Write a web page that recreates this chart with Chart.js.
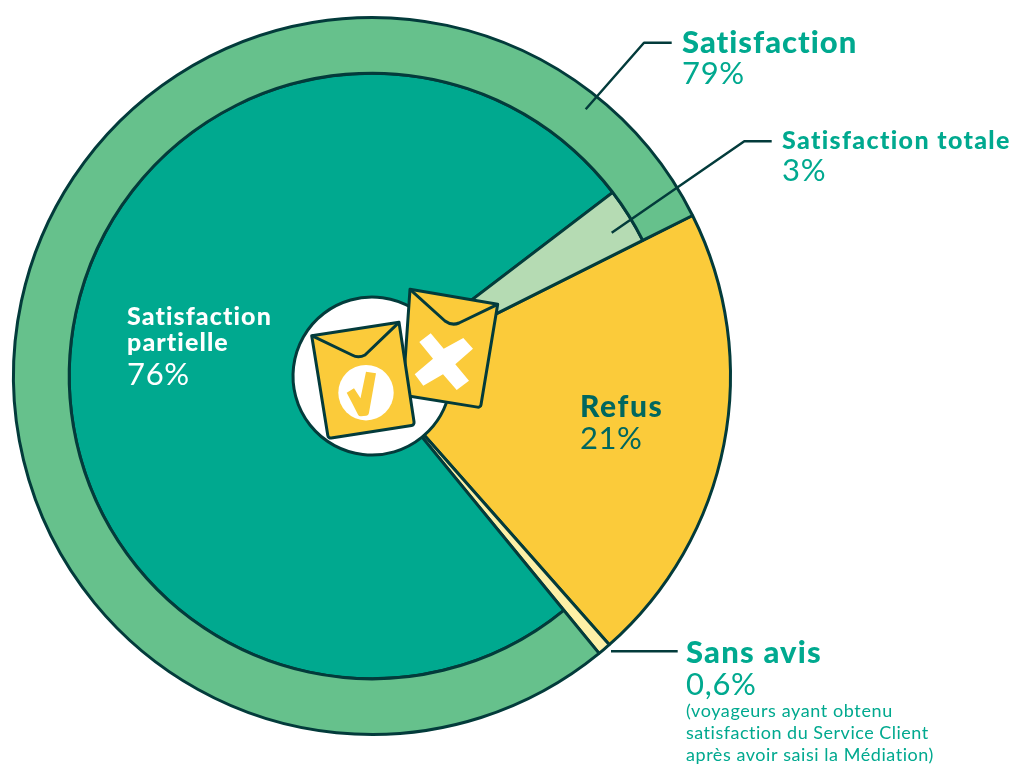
<!DOCTYPE html>
<html lang="fr">
<head>
<meta charset="utf-8">
<title>Répartition des avis</title>
<script src="https://cdn.jsdelivr.net/npm/chart.js@4"></script>
<style>
html,body{margin:0;padding:0;background:#fff}
canvas{display:block}
</style>
</head>
<body>
<canvas id="c" width="1014" height="765"></canvas>
<script>
// Shares in percent; the outer ring groups both satisfaction slices.
const outerLabels = ['Refus', 'Sans avis', 'Satisfaction'];
const outerValues = [21, 0.6, 79];
const innerLabels = ['Refus', 'Sans avis', 'Satisfaction partielle', 'Satisfaction totale'];
const innerValues = [21, 0.6, 76, 3];

const INK = '#033b3b', TEAL = '#00a98f', GREEN = '#66c18c', PALE_GREEN = '#b5dbb3';
const YELLOW = '#fbcb3a', PALE_YELLOW = '#fdf0a6', DEEP_TEAL = '#00675f';
const FACE = 'Lato, sans-serif';

// Refus and Sans avis run through both rings: stretch their inner arcs to the outer edge.
const spanRings = {
  id: 'spanRings',
  afterDatasetsUpdate(chart) {
    const outer = chart.getDatasetMeta(0).data[0].outerRadius;
    const arcs = chart.getDatasetMeta(1).data;
    arcs[0].outerRadius = outer;
    arcs[1].outerRadius = outer;
  }
};

function poly(ctx, pts, close) {
  ctx.beginPath();
  pts.forEach((p, i) => i ? ctx.lineTo(p[0], p[1]) : ctx.moveTo(p[0], p[1]));
  if (close) ctx.closePath();
}

// Closed outline whose corners are rounded by the matching radius.
function roundedPoly(ctx, pts, radii) {
  const n = pts.length;
  ctx.beginPath();
  ctx.moveTo((pts[n - 1][0] + pts[0][0]) / 2, (pts[n - 1][1] + pts[0][1]) / 2);
  pts.forEach((p, i) => {
    const q = pts[(i + 1) % n];
    ctx.arcTo(p[0], p[1], (p[0] + q[0]) / 2, (p[1] + q[1]) / 2, radii[i]);
  });
  ctx.closePath();
}

function envelope(ctx, corners, flapLeft, flapTip, flapRight) {
  ctx.save();
  ctx.lineJoin = 'round';
  ctx.lineWidth = 3;
  ctx.strokeStyle = INK;
  ctx.fillStyle = YELLOW;
  roundedPoly(ctx, corners, [0, 0, 3, 3]);
  ctx.fill();
  ctx.stroke();
  ctx.beginPath();
  ctx.moveTo(corners[0][0], corners[0][1]);
  ctx.lineTo(flapLeft[0], flapLeft[1]);
  ctx.quadraticCurveTo(flapTip[0], flapTip[1], flapRight[0], flapRight[1]);
  ctx.lineTo(corners[1][0], corners[1][1]);
  ctx.stroke();
  ctx.restore();
}

// Leader lines, envelopes and captions on top of the rings.
const annotations = {
  id: 'annotations',
  afterDraw(chart) {
    const ctx = chart.ctx;
    ctx.save();
    ctx.strokeStyle = INK;
    ctx.lineWidth = 2.5;
    ctx.lineJoin = 'round';
    [
      [[671.7, 42.7], [644, 42.7], [585.7, 109.3]],
      [[771.7, 141.3], [744.3, 141.3], [611.7, 232.7]],
      [[677.7, 651.3], [611, 651.3]]
    ].forEach(l => { poly(ctx, l, false); ctx.stroke(); });

    // Refused envelope with a white cross
    envelope(ctx, [[410, 289.3], [497.7, 304.3], [480.5, 407.6], [402.7, 395]],
      [445, 321], [451.7, 326], [459, 323]);
    ctx.fillStyle = '#fff';
    poly(ctx, [[430.7, 333.3], [443.7, 348.7], [463.3, 338], [473, 348.7], [455.3, 364.3], [469, 380.7],
      [456.7, 390], [443, 374.3], [423.3, 385.7], [414.7, 374.3], [433, 358.7], [419.3, 342]], true);
    ctx.fill();

    // Accepted envelope with a tick
    envelope(ctx, [[311.7, 335.7], [399, 322.3], [414.5, 425], [328.3, 438.5]],
      [352, 355], [358.3, 358.5], [365, 355]);
    ctx.fillStyle = '#fff';
    ctx.beginPath();
    ctx.arc(366, 392.7, 27.7, 0, Math.PI * 2);
    ctx.fill();
    ctx.fillStyle = YELLOW;
    roundedPoly(ctx, [[346.7, 392.7], [354, 388.3], [360.5, 398.3], [366, 371.7], [376, 373.3], [368.5, 415.5], [359, 416.5]],
      [0, 0, 0, 0, 0, 3, 3]);
    ctx.fill();

    // Captions
    ctx.textBaseline = 'alphabetic';
    ctx.textAlign = 'left';
    const text = (s, x, y, weight, size, color, spacing) => {
      ctx.font = weight + ' ' + size + 'px ' + FACE;
      ctx.letterSpacing = spacing + 'px';
      ctx.fillStyle = color;
      ctx.fillText(s, x, y);
    };
    text('Satisfaction', 682, 53, 900, 31, TEAL, 1);
    text('79%', 682, 84, 400, 31, TEAL, 0.7);
    text('Satisfaction totale', 782, 149, 900, 25, TEAL, 1.35);
    text('3%', 782, 181, 400, 31, TEAL, 0.7);
    text('Sans avis', 686, 663, 900, 31, TEAL, 1.2);
    text('0,6%', 686, 695, 400, 31, TEAL, 0.7);
    text('(voyageurs ayant obtenu', 686, 717, 400, 18, TEAL, 0.6);
    text('satisfaction du Service Client', 686, 739, 400, 18, TEAL, 0.5);
    text('après avoir saisi la Médiation)', 686, 761, 400, 18, TEAL, 0.55);
    text('Satisfaction', 127, 325, 900, 25, '#fff', 1.1);
    text('partielle', 127, 351, 900, 25, '#fff', 1.1);
    text('76%', 127, 385, 400, 31, '#fff', 0.7);
    text('Refus', 580, 417, 900, 30, DEEP_TEAL, 1.6);
    text('21%', 580, 449, 400, 31, DEEP_TEAL, 0.5);
    ctx.restore();
  }
};

new Chart(document.getElementById('c'), {
  type: 'doughnut',
  data: {
    labels: innerLabels,
    datasets: [
      {
        label: 'Regroupement',
        labels: outerLabels,
        data: outerValues,
        weight: 56,
        backgroundColor: ['rgba(0,0,0,0)', 'rgba(0,0,0,0)', GREEN],
        borderColor: INK,
        borderWidth: [0, 0, 3]
      },
      {
        label: 'Détail',
        data: innerValues,
        weight: 225,
        backgroundColor: [YELLOW, PALE_YELLOW, TEAL, PALE_GREEN],
        borderColor: INK,
        borderWidth: 3
      }
    ]
  },
  options: {
    responsive: false,
    animation: false,
    events: [],
    rotation: 63.4,
    cutout: 79,
    layout: { padding: { left: 12, right: 282, top: 16, bottom: 29 } },
    plugins: { legend: { display: false }, tooltip: { enabled: false } }
  },
  plugins: [spanRings, annotations]
});
</script>
</body>
</html>
